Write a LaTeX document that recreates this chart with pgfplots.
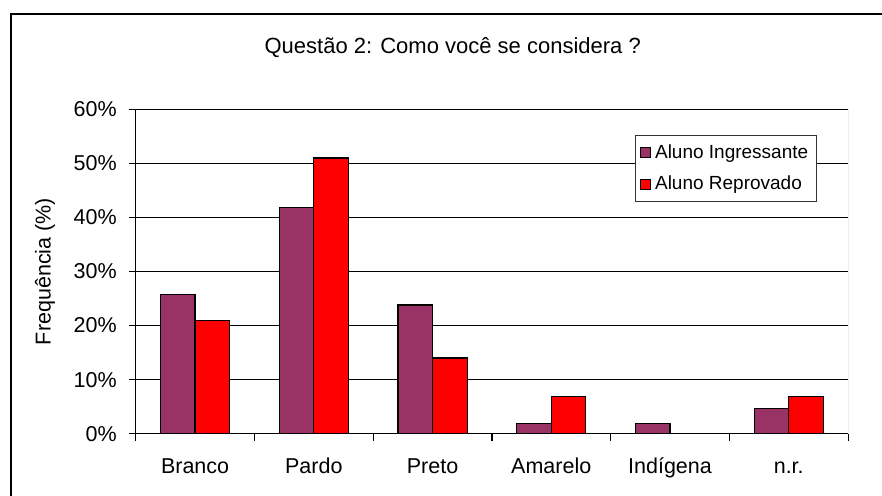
\documentclass[border=0pt]{standalone}
\usepackage{fontspec}
\setmainfont{Liberation Sans}
\usepackage{pgfplots}
\pgfplotsset{compat=1.18}

\definecolor{ingr}{HTML}{993366}
\definecolor{repr}{HTML}{FF0000}

\begin{document}
\begin{tikzpicture}
% fixed page: 882 x 495 px at 0.5pt per px, plot area lower-left at (0,0)
\path[use as bounding box] (-67.85pt,-30.65pt) rectangle (373.15pt,216.85pt);
% chart frame (only left and top edges fall inside the picture)
\draw[black, line width=0.6pt] (-62.35pt,-40pt) -- (-62.35pt,209.85pt) -- (400pt,209.85pt);
\begin{axis}[
    at={(0,0)}, anchor=south west,
    scale only axis,
    width=356.2pt, height=162.2pt,
    ybar=0pt, bar width=17.3pt,
    xmin=-0.5, xmax=5.5,
    ymin=0, ymax=60,
    xtick={-0.5,0.5,...,5.5},
    x tick label as interval,
    xticklabels={Branco,Pardo,Preto,Amarelo,Indígena,n.r.},
    ytick={0,10,...,60},
    yticklabel={\pgfmathprintnumber{\tick}\%},
    /pgf/number format/assume math mode=true,
    tick align=outside, major tick length=3.5pt,
    tick style={black, line width=0.6pt},
    axis line style={line width=0.6pt},
    axis x line*=bottom, axis y line*=left,
    ymajorgrids,
    grid style={black, line width=0.6pt},
    tick label style={font=\fontsize{10.75}{12}\selectfont},
    xticklabel style={text height=8pt, text depth=2pt, yshift=-5pt},
    yticklabel style={xshift=-2.5pt},
    title={Questão 2: Como você se considera ?},
    title style={at={(axis description cs:0.445,1)}, yshift=24.65pt, anchor=center,
        font=\fontsize{11}{13}\selectfont},
    ylabel={Frequência (\%)},
    every axis y label/.style={at={(axis description cs:0,0.5)}, xshift=-45.3pt,
        rotate=90, anchor=center, font=\fontsize{10.75}{12}\selectfont},
    legend style={at={(axis description cs:0.956,0.921)}, anchor=north east,
        draw=black!80, line width=0.5pt, font=\fontsize{9.5}{11}\selectfont,
        inner xsep=2pt, inner ysep=2.5pt, row sep=3.5pt},
    legend cell align=left,
    legend image code/.code={\draw[#1, draw=black, line width=0.6pt] (0pt,-2.5pt) rectangle (5pt,2.5pt);},
]
\addplot[fill=ingr, draw=black, line width=0.6pt] coordinates
    {(0,25.7) (1,41.8) (2,23.8) (3,1.9) (4,1.9) (5,4.7)};
\addplot[fill=repr, draw=black, line width=0.6pt] coordinates
    {(0,21.0) (1,51.0) (2,14.0) (3,6.9) (5,6.9)};
\legend{Aluno Ingressante, Aluno Reprovado}
\draw[gray, line width=0.6pt] (rel axis cs:1,0) -- (rel axis cs:1,1);
\end{axis}
\end{tikzpicture}
\end{document}
